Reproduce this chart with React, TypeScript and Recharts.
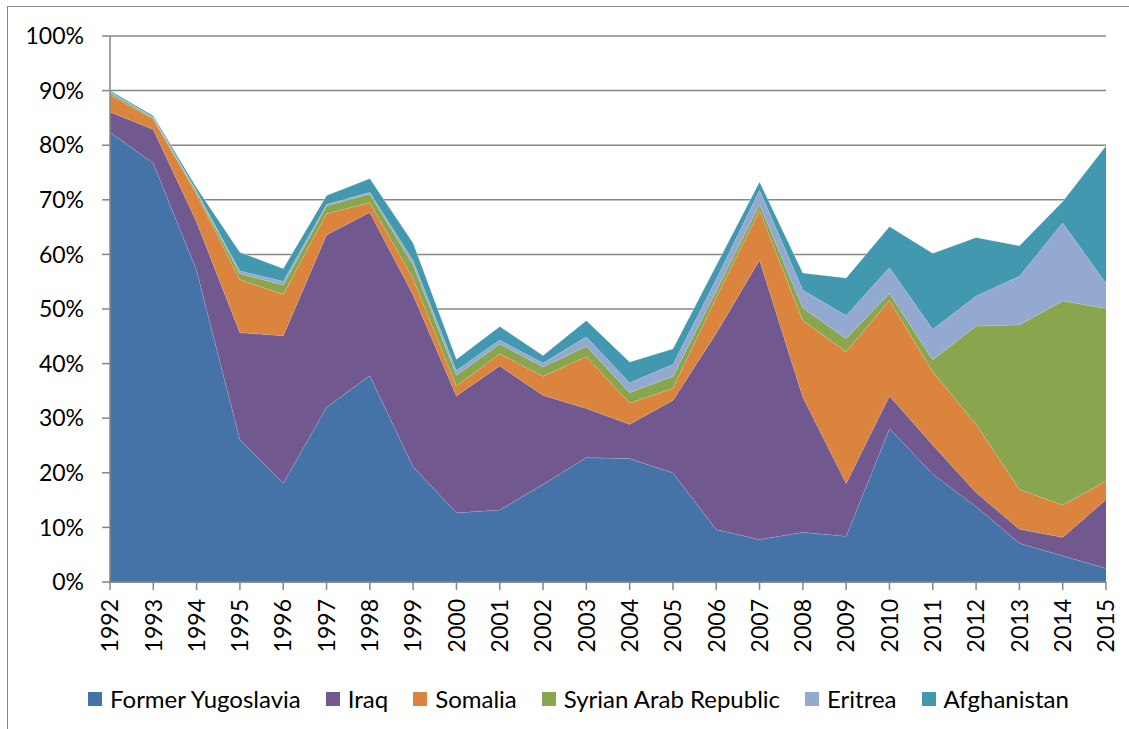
import { AreaChart, Area, XAxis, YAxis, CartesianGrid } from "recharts";

const years = [
  "1992", "1993", "1994", "1995", "1996", "1997", "1998", "1999", "2000", "2001", "2002", "2003",
  "2004", "2005", "2006", "2007", "2008", "2009", "2010", "2011", "2012", "2013", "2014", "2015",
];

// shares of total, in percent
const formerYugoslavia = [82.4, 76.7, 57.1, 26.1, 18.1, 32.0, 37.8, 21.1, 12.7, 13.2, 17.9, 22.8, 22.6, 20.0, 9.6, 7.8, 9.1, 8.4, 28.1, 19.8, 13.8, 7.1, 4.8, 2.5];
const iraq = [3.7, 6.2, 8.9, 19.6, 27.0, 31.6, 29.9, 31.5, 21.4, 26.4, 16.3, 9.0, 6.3, 13.3, 36.0, 51.2, 24.8, 9.7, 6.0, 5.3, 2.6, 2.6, 3.4, 12.6];
const somalia = [3.1, 1.9, 5.0, 9.7, 7.6, 3.9, 1.8, 3.0, 1.8, 2.2, 3.5, 9.5, 3.9, 2.2, 6.6, 9.1, 14.0, 24.1, 17.5, 13.4, 12.5, 7.3, 5.9, 3.4];
const syria = [0.4, 0.2, 0.4, 1.1, 1.7, 1.4, 1.6, 2.5, 2.0, 1.8, 1.7, 1.9, 1.9, 2.2, 1.1, 1.1, 2.3, 2.4, 1.3, 2.2, 18.0, 30.1, 37.4, 31.6];
const eritrea = [0.2, 0.1, 0.2, 0.5, 0.7, 0.3, 0.3, 0.8, 0.9, 0.7, 0.7, 1.7, 1.8, 2.2, 2.2, 2.6, 3.3, 4.2, 4.7, 5.6, 5.5, 8.9, 14.3, 4.6];
const afghanistan = [0.2, 0.3, 0.6, 3.4, 2.3, 1.6, 2.5, 3.2, 2.0, 2.5, 1.4, 3.0, 3.8, 2.8, 2.5, 1.5, 3.1, 6.9, 7.5, 13.9, 10.7, 5.6, 3.9, 25.2];

const yTicks = [0, 10, 20, 30, 40, 50, 60, 70, 80, 90, 100];

const series = [
  { key: "yugoslavia", name: "Former Yugoslavia", color: "#4572A7", values: formerYugoslavia },
  { key: "iraq", name: "Iraq", color: "#71588F", values: iraq },
  { key: "somalia", name: "Somalia", color: "#DB843D", values: somalia },
  { key: "syria", name: "Syrian Arab Republic", color: "#89A54E", values: syria },
  { key: "eritrea", name: "Eritrea", color: "#93A9CF", values: eritrea },
  { key: "afghanistan", name: "Afghanistan", color: "#4198AF", values: afghanistan },
];

const data = years.map((year, i) => {
  const row: Record<string, string | number> = { year };
  series.forEach((s) => {
    row[s.key] = s.values[i];
  });
  return row;
});

const FONT = "Lato, 'Open Sans', sans-serif";
const AXIS = "#868686";

const YearTick = (props: any) => {
  const { x, payload } = props;
  return (
    <g transform={`translate(${x},${599})`}>
      <text transform="rotate(-90)" textAnchor="end" dy="0.36em" fill="#000" fontSize={23} fontFamily={FONT}>
        {payload.value}
      </text>
    </g>
  );
};

export default function App() {
  return (
    <div style={{ position: "fixed", left: 0, top: 0, width: 1129, height: 729, background: "#fff", overflow: "hidden" }}>
      <div style={{ position: "absolute", left: 7, top: 6, width: 1140, height: 740, border: `1.5px solid ${AXIS}` }} />
      <div style={{ position: "absolute", left: 0, top: 0 }}>
        <AreaChart width={1129} height={729} data={data} margin={{ top: 36, right: 23, left: 0, bottom: 97 }}>
          <CartesianGrid vertical={false} stroke={AXIS} strokeWidth={1.5} />
          <XAxis
            dataKey="year"
            interval={0}
            stroke={AXIS}
            strokeWidth={1.5}
            tickSize={8}
            tick={<YearTick />}
            height={50}
          />
          <YAxis
            domain={[0, 100]}
            ticks={yTicks}
            interval={0}
            width={110}
            stroke={AXIS}
            strokeWidth={1.5}
            tickSize={8}
            tickMargin={18}
            tickFormatter={(v) => `${v}%`}
            tick={{ fill: "#000", fontSize: 23, fontFamily: FONT }}
          />
          {series.map((s) => (
            <Area
              key={s.key}
              type="linear"
              dataKey={s.key}
              name={s.name}
              stackId="1"
              fill={s.color}
              fillOpacity={1}
              stroke="#ffffff"
              strokeOpacity={0.35}
              strokeWidth={1}
              isAnimationActive={false}
            />
          ))}
        </AreaChart>
      </div>
      <div
        style={{
          position: "absolute",
          left: 88,
          top: 684,
          display: "flex",
          alignItems: "center",
          gap: 25,
          fontFamily: FONT,
          fontSize: 24,
          color: "#000",
          whiteSpace: "nowrap",
        }}
      >
        {series.map((s) => (
          <div key={s.key} style={{ display: "flex", alignItems: "center", gap: 8 }}>
            <span style={{ display: "inline-block", width: 14, height: 14, background: s.color }} />
            <span>{s.name}</span>
          </div>
        ))}
      </div>
    </div>
  );
}
